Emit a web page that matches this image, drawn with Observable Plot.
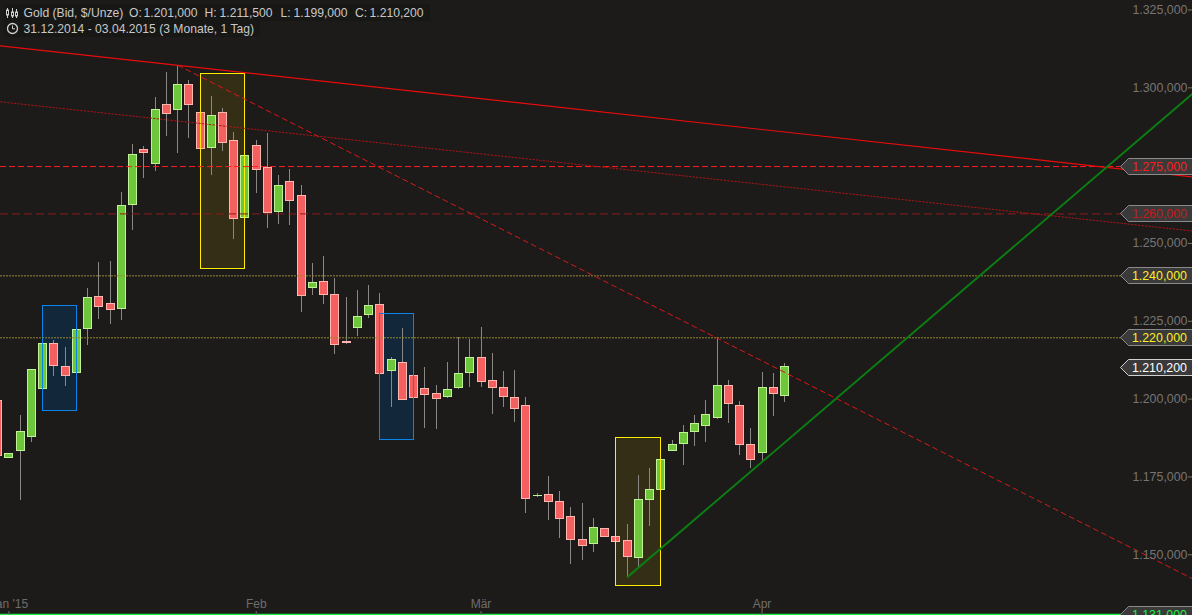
<!DOCTYPE html>
<html>
<head>
<meta charset="utf-8">
<style>
html,body{margin:0;padding:0;background:#1c1b1a;overflow:hidden}
svg{display:block}
</style>
<script src="https://cdn.jsdelivr.net/npm/d3@7"></script>
<script src="https://cdn.jsdelivr.net/npm/@observablehq/plot@0.6"></script>
</head>
<body>
<div id="chart"></div>
<script>
// Daily gold candles, dollars per ounce
const open = [1199.4,1181.1,1183.3,1187.8,1203.3,1217.7,1210.3,1208.4,1222.5,1232.8,1230.6,1229.0,1262.4,1280.0,1275.5,1294.5,1292.9,1300.9,1291.9,1280.7,1291.9,1282.9,1258.2,1281.3,1274.2,1260.1,1269.8,1265.3,1235.7,1237.6,1233.5,1218.4,1222.9,1227.0,1230.2,1209.0,1211.6,1207.4,1203.3,1201.6,1200.7,1203.6,1208.4,1213.2,1205.8,1203.6,1200.4,1197.8,1168.9,1169.2,1167.0,1162.1,1154.7,1153.5,1158.3,1155.7,1154.4,1149.0,1167.6,1170.8,1183.3,1185.6,1189.4,1191.4,1193.9,1204.2,1197.8,1185.3,1182.7,1203.6,1201.0];
const close = [1181.7,1182.4,1189.4,1209.4,1217.7,1210.6,1207.4,1222.2,1232.5,1229.6,1228.6,1262.0,1278.4,1279.1,1292.9,1291.6,1300.9,1294.5,1280.3,1291.0,1282.3,1257.9,1278.1,1273.6,1259.8,1268.5,1263.6,1233.1,1237.3,1233.5,1217.4,1217.9,1226.4,1229.9,1208.1,1212.6,1199.7,1200.4,1201.3,1200.0,1202.9,1208.1,1213.2,1205.5,1203.6,1200.7,1196.8,1167.9,1169.0,1167.0,1161.5,1154.7,1152.8,1158.6,1155.7,1154.1,1149.3,1167.6,1170.8,1180.4,1185.3,1189.1,1192.0,1194.9,1204.2,1198.4,1185.3,1180.4,1203.6,1201.6,1210.2];
const high = [1199.4,1182.4,1194.7,1209.4,1217.7,1218.8,1216.6,1222.2,1235.4,1243.8,1244.2,1266.4,1281.8,1281.2,1296.9,1304.9,1307.2,1302.4,1291.9,1297.2,1293.4,1285.7,1278.1,1283.1,1285.3,1271.8,1273.8,1268.6,1243.6,1245.8,1238.8,1232.6,1234.9,1236.5,1233.9,1213.4,1222.7,1207.4,1210.2,1204.4,1211.8,1219.8,1219.1,1223.0,1214.7,1208.9,1209.2,1200.5,1169.6,1175.1,1170.3,1165.2,1166.5,1161.7,1158.3,1155.7,1159.7,1175.5,1177.7,1180.4,1186.7,1191.5,1194.7,1199.6,1219.8,1206.0,1199.2,1190.6,1208.6,1208.2,1211.5];
const low = [1181.7,1181.1,1167.4,1186.1,1203.3,1207.3,1204.1,1208.4,1217.2,1225.7,1224.1,1225.4,1254.3,1271.0,1273.1,1284.5,1279.0,1283.8,1280.3,1271.9,1279.6,1251.4,1258.2,1266.2,1254.8,1256.2,1255.8,1227.8,1233.3,1230.4,1214.3,1217.6,1220.1,1226.0,1208.1,1197.4,1199.7,1200.4,1190.7,1190.2,1200.3,1203.2,1203.7,1203.7,1195.1,1197.3,1192.5,1163.3,1168.5,1161.0,1155.2,1146.9,1148.2,1150.7,1155.7,1154.1,1142.7,1146.0,1159.1,1170.8,1183.3,1178.7,1184.8,1186.1,1193.5,1192.2,1181.9,1177.7,1179.7,1194.4,1199.0];
const candles = open.map((o,i)=>({i,open:o,close:close[i],high:high[i],low:low[i],up:close[i]>=o}));

// Price axis
const priceTicks = [1325,1300,1250,1225,1200,1175,1150];
const priceTickLabels = ["1.325,000","1.300,000","1.250,000","1.225,000","1.200,000","1.175,000","1.150,000"];
// Month axis (candle number)
const monthTicks = [1,23,43,68];
const monthLabels = ["Jan '15","Feb","Mär","Apr"];

// Horizontal levels
const levelPrices = [1274.7,1259.5,1239.6,1219.7,1130.8];
const levelLabels = ["1.275,000","1.260,000","1.240,000","1.220,000","1.131,000"];
const levelColors = ["#ff1c1c","#c41a1a","#ffee22","#ffee22","#22ee44"];
const levelLines = ["#ff1c1c","#8e1a1a","#94882e","#94882e","#22ee44"];
const levelDash = ["6,3","8,4","2,1","2,1","none"];
const lastPrice = 1209.9, lastLabel = "1.210,200";

// Trend lines: [candle, price] pairs
const xStart = 0.2046, xEnd = 106.255;
const solidTrend = [[xStart,1313.5],[xEnd,1271.4]];
const dottedTrend = [[xStart,1295.5],[xEnd,1254.0]];
const dashedTrend = [[16,1307.2],[xEnd,1142.3]];
const greenTrend = [[56,1142.9],[xEnd,1298.1]];

// Highlight boxes: from candle, to candle, top, bottom
const yellowBoxes = [[18,22,1304.4,1241.8],[55,59,1187.5,1140.0]];
const blueBoxes = [[4,7,1229.9,1196.2],[34,37,1227.3,1186.9]];
const boxRows = rows=>rows.map(r=>({x1:r[0],x2:r[1],y1:r[2],y2:r[3]}));

// Header
const headerItems = [
  ["Gold (Bid, $/Unze)",23,13],["O:",128.5,13],["1.201,000",143,13],["H:",204,13],["1.211,500",219,13],
  ["L:",280,13],["1.199,000",293,13],["C:",354.5,13],["1.210,200",369,13],
  ["31.12.2014 - 03.04.2015 (3 Monate, 1 Tag)",23,29]
];

const FONT = "'Liberation Sans', Arial, sans-serif";
const halfBody = 4/11.24;
const line = (pts,o)=>Plot.line(pts,{x:d=>d[0],y:d=>d[1],...o});

function tags(index,{y}){
  const g = d3.create("svg:g").attr("font-family",FONT).attr("font-size",12.4);
  const rows = levelPrices.map((p,i)=>({p,label:levelLabels[i],color:levelColors[i],stroke:"#8a8a8a"}));
  rows.push({p:lastPrice,label:lastLabel,color:"#ffffff",stroke:"#d0d0d0"});
  for (const r of rows){
    const c = Math.floor(y(r.p))+0.5;
    g.append("path").attr("d",`M1194,${c-8}H1128.5L1120.5,${c}L1128.5,${c+8}H1194`)
      .attr("fill","#3a3a3a").attr("stroke",r.stroke).attr("stroke-width",1);
    g.append("text").attr("x",1187).attr("y",c+0.5).attr("text-anchor","end")
      .attr("dominant-baseline","central").attr("fill",r.color).text(r.label);
  }
  return g.node();
}

function header(){
  const g = d3.create("svg:g");
  g.append("rect").attr("x",4).attr("y",4).attr("width",426).attr("height",17).attr("fill","#171716");
  g.append("rect").attr("x",4).attr("y",21).attr("width",256).attr("height",16).attr("fill","#171716");
  const ic = g.append("g").attr("stroke","#d0d0d0").attr("fill","none");
  // candle icon
  [[7.5,8,18,10,15],[12.5,8,18,12,16],[16.5,9,18,12,16]].forEach(([x,a,b,c,d])=>{
    ic.append("line").attr("x1",x).attr("x2",x).attr("y1",a).attr("y2",b);
    ic.append("rect").attr("x",x-1).attr("y",c).attr("width",2).attr("height",d-c).attr("fill","#1c1b1a");
  });
  // clock icon
  ic.append("circle").attr("cx",12.5).attr("cy",28.5).attr("r",5).attr("stroke-width",1.3);
  ic.append("path").attr("d","M12.5,25.5V28.8H15").attr("stroke-width",1);
  return g.node();
}

const chart = Plot.plot({
  width:1192,height:615,margin:0,
  style:{background:"#1c1b1a",fontFamily:FONT,fontSize:"12px",overflow:"hidden"},
  x:{domain:[xStart,xEnd],range:[0,1192],axis:null},
  y:{domain:[1130.49,1328.05],range:[615,0],axis:null},
  marks:[
    // box fills
    Plot.rect(boxRows(yellowBoxes),{x1:"x1",x2:"x2",y1:"y1",y2:"y2",fill:"#352e17",shapeRendering:"crispEdges"}),
    Plot.rect(boxRows(blueBoxes),{x1:"x1",x2:"x2",y1:"y1",y2:"y2",fill:"#12283a",shapeRendering:"crispEdges"}),
    // candles
    Plot.ruleX(candles,{x:"i",y1:"low",y2:"high",dx:-0.5,stroke:"#8a8885",strokeWidth:1,shapeRendering:"crispEdges"}),
    Plot.rect(candles,{x1:d=>d.i-halfBody,x2:d=>d.i+halfBody,y1:"open",y2:"close",
      fill:d=>d.up?"#6ec63a":"#f46060",stroke:d=>d.up?"#c2f296":"#ffb8b0",strokeWidth:1,shapeRendering:"crispEdges"}),
    // box outlines
    Plot.rect(boxRows(yellowBoxes),{x1:"x1",x2:"x2",y1:"y1",y2:"y2",fill:"none",stroke:"#ffee00",strokeWidth:1,shapeRendering:"crispEdges"}),
    Plot.rect(boxRows(blueBoxes),{x1:"x1",x2:"x2",y1:"y1",y2:"y2",fill:"none",stroke:"#0a84e8",strokeWidth:1,shapeRendering:"crispEdges"}),
    // levels
    ...levelPrices.map((p,k)=>Plot.ruleY([p],{x1:xStart,x2:xEnd,stroke:levelLines[k],strokeWidth:k===4?1.5:1,strokeDasharray:levelDash[k]})),
    // trend lines
    line(dottedTrend,{stroke:"#a81414",strokeWidth:1,strokeDasharray:"1.5,2"}),
    line(dashedTrend,{stroke:"#d81818",strokeWidth:1,strokeDasharray:"5,4"}),
    line(solidTrend,{stroke:"#e80c0c",strokeWidth:1.2}),
    line(greenTrend,{stroke:"#0b7d12",strokeWidth:2}),
    // axes
    Plot.axisY({anchor:"left",dx:1192,ticks:priceTicks,tickFormat:v=>priceTickLabels[priceTicks.indexOf(v)],tickSize:4,tickPadding:1,color:"#777573",fontSize:12.4,label:null}),
    Plot.axisX({anchor:"top",dy:614,dx:-0.5,ticks:monthTicks,tickFormat:v=>monthLabels[monthTicks.indexOf(v)],tickSize:4,tickPadding:3,color:"#6f6d6b",fontSize:12,label:null}),
    // tags and header
    tags,
    header,
    Plot.text(headerItems,{text:d=>d[0],x:d=>xStart+(d[1]/1192)*(xEnd-xStart),y:d=>1328.05-d[2]*0.32123,
      fill:"#c8c8c8",fontSize:12.15,textAnchor:"start",lineAnchor:"middle"})
  ]
});
document.getElementById("chart").appendChild(chart);
</script>
</body>
</html>
